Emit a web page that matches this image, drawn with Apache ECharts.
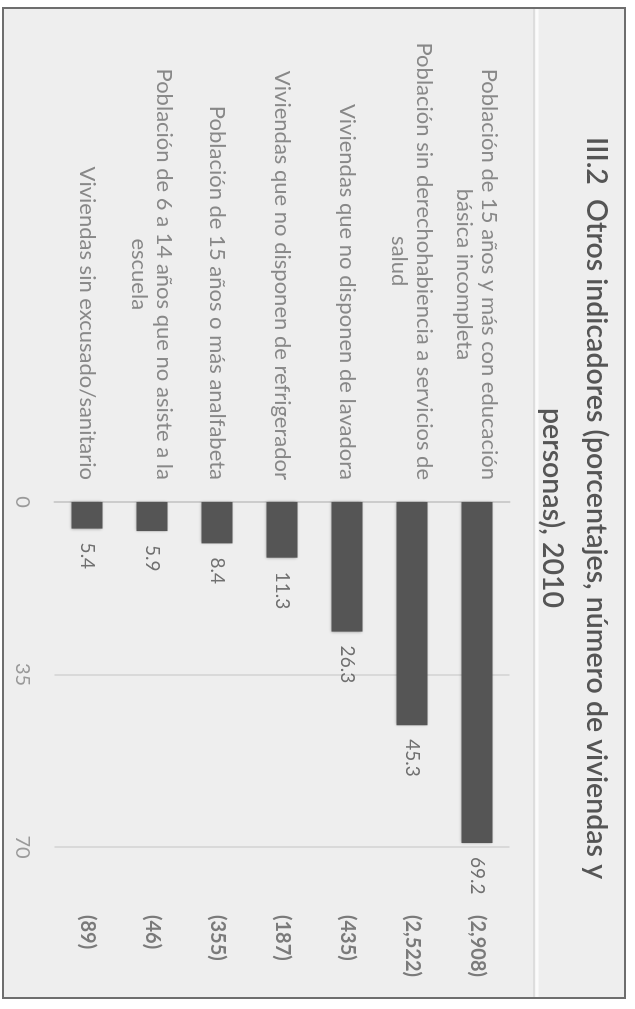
<!DOCTYPE html>
<html>
<head>
<meta charset="utf-8">
<script src="https://cdn.jsdelivr.net/npm/echarts@6/dist/echarts.min.js"></script>
<style>
  html, body { margin: 0; padding: 0; background: #ffffff; overflow: hidden; width: 635px; height: 1009px; }
  #rot { position: absolute; left: 0; top: 0; width: 1009px; height: 635px;
         transform-origin: 0 0; transform: translate(635px, 0) rotate(90deg); }
  #chart { width: 1009px; height: 635px; }
</style>
</head>
<body>
<div id="rot"><div id="chart"></div></div>
<script>
const titleText = 'III.2  Otros indicadores (porcentajes, número de viviendas y\npersonas), 2010';
const categories = [
  'Población de 15 años y más con educación\nbásica incompleta',
  'Población sin derechohabiencia a servicios de\nsalud',
  'Viviendas que no disponen de lavadora',
  'Viviendas que no disponen de refrigerador',
  'Población de 15 años o más analfabeta',
  'Población de 6 a 14 años que no asiste a la\nescuela',
  'Viviendas sin excusado/sanitario'
];
const percentages = [69.2, 45.3, 26.3, 11.3, 8.4, 5.9, 5.4];
const counts = ['(2,908)', '(2,522)', '(435)', '(187)', '(355)', '(46)', '(89)'];
const valueTicks = { min: 0, max: 70, interval: 35 };

const FONT = 'Lato, "Open Sans", sans-serif';
const chart = echarts.init(document.getElementById('chart'), null, { renderer: 'canvas' });

chart.setOption({
  animation: false,
  backgroundColor: 'transparent',
  textStyle: { fontFamily: FONT },
  title: {
    text: titleText,
    left: 503,
    top: 12,
    textAlign: 'center',
    textStyle: { fontFamily: FONT, fontSize: 28.5, fontWeight: 600, color: '#555555', lineHeight: 44 }
  },
  graphic: [
    { type: 'rect', z: -100, silent: true,
      shape: { x: 8, y: 10, width: 990, height: 622 },
      style: { fill: '#eeeeee', stroke: '#6e6e6e', lineWidth: 2 } },
    { type: 'line', z: -99, silent: true,
      shape: { x1: 9, y1: 101, x2: 997, y2: 101 },
      style: { stroke: '#dddddd', lineWidth: 2 } },
    { type: 'line', z: -99, silent: true,
      shape: { x1: 9, y1: 98, x2: 997, y2: 98 },
      style: { stroke: '#fbfbfb', lineWidth: 3 } }
  ],
  grid: { left: 502, right: 162, top: 125.5, bottom: 54.5, containLabel: false, outerBoundsMode: 'none' },
  xAxis: {
    type: 'value',
    min: valueTicks.min, max: valueTicks.max, interval: valueTicks.interval,
    axisLine: { show: false },
    axisTick: { show: false },
    splitLine: { show: true, lineStyle: { color: '#d2d2d2', width: 1.5 } },
    axisLabel: { margin: 22, fontSize: 20, color: '#9a9a9a', fontFamily: FONT }
  },
  yAxis: [
    {
      type: 'category',
      data: categories,
      inverse: true,
      axisLine: { show: true, lineStyle: { color: '#cccccc', width: 2 } },
      axisTick: { show: false },
      axisLabel: {
        margin: 22,
        align: 'right',
        formatter: function (v) {
          return v.split('\n').map(function (l) { return '{c|' + l + '}'; }).join('\n');
        },
        rich: { c: { align: 'center', fontSize: 22, color: '#888888', fontFamily: FONT, lineHeight: 25 } }
      }
    },
    {
      type: 'category',
      data: counts,
      inverse: true,
      position: 'right',
      axisLine: { show: false },
      axisTick: { show: false },
      axisLabel: { margin: 68, align: 'left', fontSize: 20, fontWeight: 'bold', color: '#7a7a7a', fontFamily: FONT }
    }
  ],
  series: [{
    type: 'bar',
    data: percentages,
    yAxisIndex: 0,
    barWidth: 31,
    itemStyle: { color: '#555555', shadowBlur: 3, shadowColor: 'rgba(0,0,0,0.35)' },
    label: {
      show: true,
      position: 'right',
      distance: 14,
      fontSize: 19,
      color: '#707070',
      fontFamily: FONT,
      formatter: function (p) { return p.value.toFixed(1); }
    }
  }]
});
</script>
</body>
</html>
